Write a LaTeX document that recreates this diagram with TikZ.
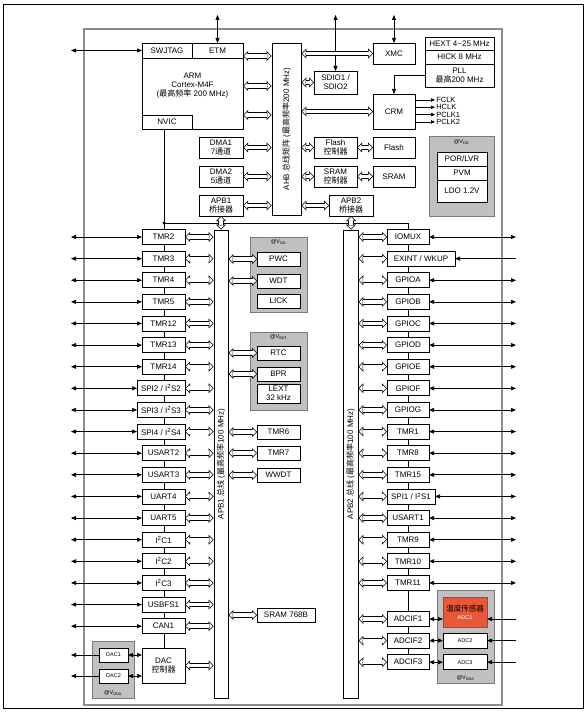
\documentclass[tikz,border=0pt]{standalone}
\usepackage{fontspec}
\setmainfont{Liberation Sans}
\newfontfamily\cjk{Noto Sans CJK SC}
\newcommand\zh[1]{{\cjk #1}}
\usepackage{xcolor}
\definecolor{framegray}{HTML}{8C8C8C}
\definecolor{groupgray}{HTML}{C0C0C0}
\definecolor{groupline}{HTML}{7A7A7A}
\definecolor{sensorred}{HTML}{E9573B}
\usepackage{tikz}
\usetikzlibrary{arrows.meta,positioning,backgrounds}

\begin{document}
\begin{tikzpicture}[x=1pt, y=-1pt, font=\fontsize{8}{9}\selectfont,
    blk/.style={rectangle, draw, line width=0.8pt, fill=white, inner sep=0pt,
      outer sep=0pt, align=center, minimum width=43pt, minimum height=15pt},
    grp/.style={rectangle, draw=groupline, line width=1pt, fill=groupgray,
      inner sep=0pt, outer sep=0pt},
    busbar/.style={rectangle, draw, line width=0.8pt, fill=white, inner sep=0pt},
    bus/.style={line width=5.4pt,
      {Triangle[length=5pt,width=10pt,line width=0pt]}-{Triangle[length=5pt,width=10pt,line width=0pt]},
      postaction={draw=white, line width=3.9pt, shorten <=1pt, shorten >=1pt,
      {Triangle[length=3.3pt,width=6.6pt,line width=0pt]}-{Triangle[length=3.3pt,width=6.6pt,line width=0pt]}}},
    io/.style={line width=0.7pt, {Triangle[length=5pt,width=4pt]}-{Triangle[length=5pt,width=4pt]}},
    ioin/.style={line width=0.7pt, {Triangle[length=5pt,width=4pt]}-},
    ioout/.style={line width=0.7pt, -{Triangle[length=5pt,width=4pt]}},
    tag/.style={font=\fontsize{5.5}{6}\selectfont, inner sep=1pt}]
\useasboundingbox (0,0) rectangle (587,714);
\draw[line width=0.8pt] (3,4) rectangle (583,708);
\draw[framegray, line width=1.2pt] (84,29) rectangle (502,705);
\coordinate (toppin) at (0,15);
\coordinate (lpin) at (71,0);
\coordinate (rpin) at (516,0);
\coordinate (jn) at (164,223);

% power domains
\node[grp, minimum width=57pt, minimum height=75pt] (vddmid) at (278.5,274.5) {};
\node[grp, minimum width=57pt, minimum height=78pt] (vbat) at (278.5,371) {};
\node[grp, minimum width=65pt, minimum height=79pt] (vddright) at (461.5,176.5) {};
\node[grp, minimum width=42pt, minimum height=57pt] (dacgrp) at (113,669.5) {};
\node[grp, minimum width=57pt, minimum height=93pt] (adcgrp) at (465.5,636.5) {};
\node[tag, below=1pt of vddmid.north] {@V\textsubscript{DD}};
\node[tag, below=1pt of vbat.north] {@V\textsubscript{BAT}};
\node[tag, below=1pt of vddright.north] {@V\textsubscript{DD}};
\node[tag, above=1pt of dacgrp.south] {@V\textsubscript{DDA}};
\node[tag, above=1pt of adcgrp.south] {@V\textsubscript{DDA}};

% core
\node[blk, minimum width=101pt, minimum height=86pt] (core) at (192.5,86)
  {ARM\\Cortex-M4F\\(\zh{最高频率} 200 MHz)};
\node[blk, minimum width=50pt, anchor=north west] (swj) at (core.north west) {SWJTAG};
\node[blk, minimum width=51pt, anchor=north east] (etm) at (core.north east) {ETM};
\node[blk, minimum width=50pt, minimum height=14pt, anchor=south west] (nvic) at (core.south west) {NVIC};
\node[blk, minimum width=44pt, minimum height=21pt] (dmaone) at (221,147.5) {DMA1\\7\zh{通道}};
\node[blk, minimum width=44pt, minimum height=21pt, below=8pt of dmaone] (dmatwo) {DMA2\\5\zh{通道}};
\node[blk, minimum width=44pt, minimum height=21pt, below=8pt of dmatwo] (apbbone) {APB1\\\zh{桥接器}};

% AHB matrix
\node[busbar, minimum width=29pt, minimum height=172pt] (ahb) at (286.5,129) {};
\node[rotate=90] at (ahb) {AHB \zh{总线矩阵} (\zh{最高频率}200 MHz)};
\node[blk, minimum width=42pt, minimum height=21pt] (xmc) at (394,53.5) {XMC};
\node[blk, minimum width=43pt, minimum height=23pt] (sdio) at (335.5,82.5) {SDIO1 /\\SDIO2};
\node[blk, minimum width=42pt, minimum height=35pt] (crm) at (394,111.5) {CRM};
\node[blk, minimum width=43pt, minimum height=21pt] (flashc) at (335.5,147.5) {Flash\\\zh{控制器}};
\node[blk, minimum width=42pt, minimum height=21pt, right=16pt of flashc] (flash) {Flash};
\node[blk, minimum width=43pt, minimum height=21pt] (sramc) at (335.5,176.5) {SRAM\\\zh{控制器}};
\node[blk, minimum width=42pt, minimum height=21pt, right=16pt of sramc] (sram) {SRAM};
\node[blk, minimum width=44pt, minimum height=21pt] (apbbtwo) at (351,205.5) {APB2\\\zh{桥接器}};

% clocks
\node[blk, minimum width=69pt, minimum height=13pt] (hext) at (459.5,43.5) {HEXT 4\textasciitilde 25 MHz};
\node[blk, minimum width=69pt, minimum height=14pt, below=0pt of hext] (hick) {HICK 8 MHz};
\node[blk, minimum width=69pt, minimum height=23pt, below=0pt of hick] (pll) {PLL\\\zh{最高}200 MHz};
\node[blk, minimum width=50pt, minimum height=14pt] (porlvr) at (462,159) {POR/LVR};
\node[blk, minimum width=50pt, minimum height=14pt, below=0pt of porlvr] (pvm) {PVM};
\node[blk, minimum width=50pt, minimum height=22pt, below=0pt of pvm] (ldo) {LDO 1.2V};

% APB buses
\node[busbar, minimum width=14pt, minimum height=468pt] (apbone) at (221,464) {};
\node[rotate=90] at (apbone) {APB1 \zh{总线} (\zh{最高频率}100 MHz)};
\node[busbar, minimum width=15pt, minimum height=468pt] (apbtwo) at (350.5,464) {};
\node[rotate=90] at (apbtwo) {APB2 \zh{总线} (\zh{最高频率}100 MHz)};

% APB1 peripherals, left
\foreach \nm/\txt/\w [count=\i from 0] in {tmr2/TMR2/43pt, tmr3/TMR3/43pt,
    tmr4/TMR4/43pt, tmr5/TMR5/43pt, tmr12/TMR12/43pt, tmr13/TMR13/43pt,
    tmr14/TMR14/43pt, spi2/{SPI2 / I\textsuperscript{2}S2}/48pt,
    spi3/{SPI3 / I\textsuperscript{2}S3}/48pt, spi4/{SPI4 / I\textsuperscript{2}S4}/48pt,
    usart2/USART2/43pt, usart3/USART3/43pt, uart4/UART4/43pt, uart5/UART5/43pt,
    iic1/{I\textsuperscript{2}C1}/43pt, iic2/{I\textsuperscript{2}C2}/43pt,
    iic3/{I\textsuperscript{2}C3}/43pt, usbfs/USBFS1/43pt, can1/CAN1/43pt} {
  \pgfmathsetmacro\yy{237+21.62*\i}
  \node[blk, minimum width=\w, anchor=east] (\nm) at (185,\yy) {\txt};
  \draw[io] (\nm.west) -- (\nm.west -| lpin);
  \draw[bus] (\nm.east) -- (\nm.east -| apbone.west);
}
\node[blk, minimum height=35pt, anchor=east] (dac) at (185,665.5) {DAC\\\zh{控制器}};
\node[blk, tag, minimum width=29pt, minimum height=14pt] (dacone) at (113.5,655) {DAC1};
\node[blk, tag, minimum width=29pt, minimum height=14pt] (dactwo) at (113.5,676) {DAC2};

% APB1 peripherals, middle
\node[blk, minimum height=14pt, anchor=west] (pwc) at (257,259) {PWC};
\node[blk, minimum height=14pt, anchor=west] (wdt) at (257,281) {WDT};
\node[blk, minimum height=14pt, anchor=west] (lick) at (257,301) {LICK};
\node[blk, minimum height=14pt, anchor=west] (rtc) at (257,353) {RTC};
\node[blk, minimum height=14pt, anchor=west] (bpr) at (257,374) {BPR};
\node[blk, minimum height=19pt, anchor=west] (lext) at (257,393.5) {LEXT\\32 kHz};
\node[blk, minimum height=14pt, anchor=west] (tmr6) at (257,432) {TMR6};
\node[blk, minimum height=14pt, anchor=west] (tmr7) at (257,453) {TMR7};
\node[blk, minimum height=14pt, anchor=west] (wwdt) at (257,475) {WWDT};
\node[blk, minimum width=58pt, minimum height=14pt, anchor=west] (sramb) at (257,615) {SRAM 768B};

% APB2 peripherals, right
\foreach \nm/\txt/\w/\st [count=\i from 0] in {iomux/IOMUX/42pt/io,
    exint/{EXINT / WKUP}/68pt/ioin, gpioa/GPIOA/42pt/io, gpiob/GPIOB/42pt/io,
    gpioc/GPIOC/42pt/io, gpiod/GPIOD/42pt/io, gpioe/GPIOE/42pt/io,
    gpiof/GPIOF/42pt/io, gpiog/GPIOG/42pt/io, tmr1/TMR1/42pt/io,
    tmr8/TMR8/42pt/io, tmr15/TMR15/42pt/io,
    spi1/{SPI1 / I\textsuperscript{2}S1}/48pt/io, usart1/USART1/42pt/io,
    tmr9/TMR9/42pt/io, tmr10/TMR10/42pt/io, tmr11/TMR11/42pt/io} {
  \pgfmathsetmacro\yy{237+21.62*\i}
  \node[blk, minimum width=\w, anchor=west] (\nm) at (387,\yy) {\txt};
  \draw[\st] (\nm.east) -- (\nm.east -| rpin);
  \draw[bus] (\nm.west) -- (\nm.west -| apbtwo.east);
}
\node[blk, minimum width=42pt, anchor=west] (adcif1) at (387,619) {ADCIF1};
\node[blk, minimum width=42pt, anchor=west] (adcif2) at (387,640.6) {ADCIF2};
\node[blk, minimum width=42pt, anchor=west] (adcif3) at (387,662.2) {ADCIF3};
\node[blk, fill=sensorred, draw=sensorred!75!black, minimum width=44pt, minimum height=30pt]
  (tsens) at (465,612) {\fontsize{7.5}{8}\selectfont\zh{温度传感器}\\[-1pt]{\color{white}\fontsize{5.5}{6}\selectfont ADC1}};
\node[blk, tag, minimum width=44pt, minimum height=15pt] (adc2) at (465,640.6) {ADC2};
\node[blk, tag, minimum width=44pt, minimum height=15pt] (adc3) at (465,662.2) {ADC3};

% connectors
\draw[io] (swj.west) -- (swj.west -| lpin);
\draw[io] (etm.north) -- (etm.north |- toppin);
\draw[io] (sdio.north) -- (sdio.north |- toppin);
\draw[io] (xmc.north) -- (xmc.north |- toppin);
\draw[bus] ([yshift=30pt]core.east) -- ([yshift=30pt]core.east -| ahb.west);
\draw[bus] (core.east) -- (core.east -| ahb.west);
\draw[bus] ([yshift=-29pt]core.east) -- ([yshift=-29pt]core.east -| ahb.west);
\foreach \nm in {dmaone,dmatwo,apbbone}
  \draw[bus] (\nm.east) -- (\nm.east -| ahb.west);
\foreach \nm in {xmc,sdio,crm,flashc,sramc,apbbtwo}
  \draw[bus] (\nm.west) -- (\nm.west -| ahb.east);
\draw[bus] (flashc) -- (flash);
\draw[bus] (sramc) -- (sram);
\draw[bus] (apbbone.south) -- (apbone.north);
\draw[bus] (apbbtwo.south) -- (apbbtwo.south |- apbtwo.north);
\draw[ioout] (pll.west) -- (pll.west -| crm.north) -- (crm.north);
\foreach \clk [count=\k from 0] in {FCLK,HCLK,PCLK1,PCLK2}
  \draw[line width=0.6pt, -{Triangle[length=4pt,width=3.5pt]}] ([yshift={11.5pt-7.3pt*\k}]crm.east) -- ++(20,0)
    node[right, inner sep=1pt, font=\fontsize{7.5}{7}\selectfont] {\clk};
\foreach \nm in {pwc,wdt,rtc,bpr,tmr6,tmr7,wwdt,sramb}
  \draw[bus] (\nm.west) -- (\nm.west -| apbone.east);
\draw[bus] (dac.east) -- (dac.east -| apbone.west);
\draw[io] (dacone.east) -- (dacone.east -| dac.west);
\draw[io] (dactwo.east) -- (dactwo.east -| dac.west);
\draw[ioout] (dacone.west) -- (dacone.west -| lpin);
\draw[ioout] (dactwo.west) -- (dactwo.west -| lpin);
\draw[io] (adcif1.east) -- (adcif1.east -| tsens.west);
\draw[io] (adcif2.east) -- (adc2.west);
\draw[io] (adcif3.east) -- (adc3.west);
\draw[ioin] (adcif1.east -| tsens.east) -- (adcif1.east -| rpin);
\draw[ioin] (adc2.east) -- (adc2.east -| rpin);
\draw[ioin] (adc3.east) -- (adc3.east -| rpin);
\foreach \nm in {adcif1,adcif2,adcif3}
  \draw[bus] (\nm.west) -- (\nm.west -| apbtwo.east);

\begin{scope}[on background layer]
  \draw[line width=0.8pt] (nvic.south -| jn) -- (jn |- dac.north);
  \draw[line width=0.8pt] (jn) -- (jn -| iomux.north) -- (adcif3.north);
\end{scope}
\fill (jn) circle (1.6);
\end{tikzpicture}
\end{document}
